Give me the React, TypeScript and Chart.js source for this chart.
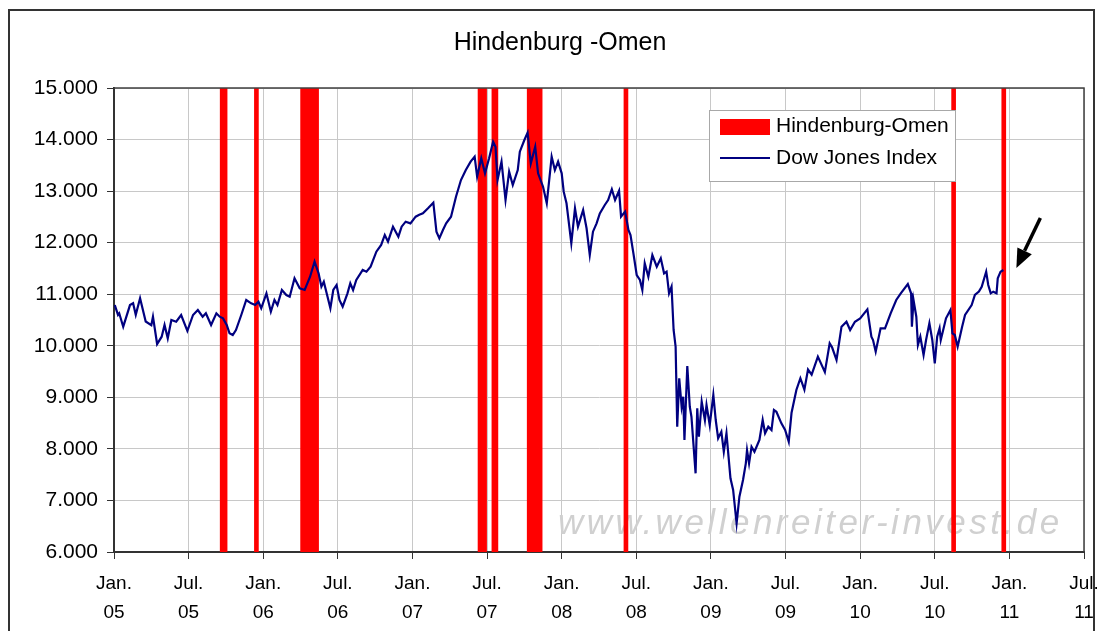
import React, { useEffect, useRef } from "react";
import { Chart, registerables } from "chart.js";

Chart.register(...registerables);

const FONT = '"Liberation Sans", Arial, sans-serif';

// X axis: months since Jan 2005
const xTickMonths = [0, 6, 12, 18, 24, 30, 36, 42, 48, 54, 60, 66, 72, 78];
const xTickLabels = [
  ["Jan.", "05"], ["Jul.", "05"], ["Jan.", "06"], ["Jul.", "06"],
  ["Jan.", "07"], ["Jul.", "07"], ["Jan.", "08"], ["Jul.", "08"],
  ["Jan.", "09"], ["Jul.", "09"], ["Jan.", "10"], ["Jul.", "10"],
  ["Jan.", "11"], ["Jul.", "11"],
];
const yMin = 6000;
const yMax = 15000;
const yStep = 1000;

// Hindenburg-Omen signal dates
const omenDates = [
  "2005-09-22", "2005-09-29", "2005-12-15",
  "2006-04-06", "2006-04-12", "2006-04-18", "2006-04-24", "2006-04-28", "2006-05-03", "2006-05-10",
  "2007-06-14", "2007-06-19", "2007-06-25", "2007-07-18", "2007-07-23",
  "2007-10-13", "2007-10-17", "2007-10-22", "2007-10-26", "2007-10-31", "2007-11-04", "2007-11-09",
  "2008-06-06", "2010-08-17", "2010-12-18",
];

// Dow Jones Index
const dowDates = [
  "2005-01-03", "2005-01-11", "2005-01-14", "2005-01-24", "2005-02-09", "2005-02-16", "2005-02-22", "2005-03-04",
  "2005-03-18", "2005-04-01", "2005-04-05", "2005-04-15", "2005-04-26", "2005-05-03", "2005-05-11", "2005-05-20",
  "2005-06-01", "2005-06-13", "2005-06-28", "2005-07-12", "2005-07-24", "2005-08-05", "2005-08-13", "2005-08-26",
  "2005-09-08", "2005-09-16", "2005-09-24", "2005-10-03", "2005-10-10", "2005-10-18", "2005-10-26", "2005-11-08",
  "2005-11-20", "2005-12-02", "2005-12-12", "2005-12-20", "2005-12-27",
  "2006-01-09", "2006-01-20", "2006-01-29", "2006-02-05", "2006-02-15", "2006-02-25", "2006-03-05", "2006-03-17",
  "2006-03-30", "2006-04-11", "2006-04-24", "2006-05-05", "2006-05-15", "2006-05-22", "2006-05-28", "2006-06-13",
  "2006-06-20", "2006-06-28", "2006-07-05", "2006-07-13", "2006-07-25", "2006-08-01", "2006-08-08", "2006-08-16",
  "2006-09-01", "2006-09-10", "2006-09-20", "2006-10-04", "2006-10-16", "2006-10-25", "2006-11-02", "2006-11-14",
  "2006-11-27", "2006-12-05", "2006-12-15", "2006-12-27",
  "2007-01-09", "2007-01-18", "2007-01-27", "2007-02-08", "2007-02-20", "2007-02-27", "2007-03-06", "2007-03-15",
  "2007-03-23", "2007-04-04", "2007-04-16", "2007-04-28", "2007-05-10", "2007-05-22", "2007-06-01", "2007-06-07",
  "2007-06-17", "2007-06-26", "2007-07-06", "2007-07-16", "2007-07-22", "2007-07-27", "2007-08-06", "2007-08-16",
  "2007-08-25", "2007-09-03", "2007-09-15", "2007-09-20", "2007-10-01", "2007-10-09", "2007-10-17", "2007-10-28",
  "2007-11-04", "2007-11-16", "2007-11-25", "2007-12-07", "2007-12-15", "2007-12-23",
  "2008-01-01", "2008-01-06", "2008-01-13", "2008-01-25", "2008-02-03", "2008-02-10", "2008-02-22", "2008-03-01",
  "2008-03-09", "2008-03-17", "2008-03-26", "2008-04-03", "2008-04-15", "2008-04-23", "2008-05-02", "2008-05-10",
  "2008-05-20", "2008-05-25", "2008-06-04", "2008-06-12", "2008-06-17", "2008-06-24", "2008-07-02", "2008-07-10",
  "2008-07-16", "2008-07-22", "2008-07-31", "2008-08-10", "2008-08-21", "2008-08-31", "2008-09-08", "2008-09-14",
  "2008-09-20", "2008-09-26", "2008-10-01", "2008-10-06", "2008-10-10", "2008-10-15", "2008-10-21", "2008-10-25",
  "2008-10-28", "2008-11-04", "2008-11-10", "2008-11-14", "2008-11-24", "2008-11-28", "2008-12-02", "2008-12-09",
  "2008-12-17", "2008-12-21", "2008-12-29",
  "2009-01-07", "2009-01-13", "2009-01-19", "2009-01-27", "2009-02-02", "2009-02-08", "2009-02-17", "2009-02-23",
  "2009-03-03", "2009-03-10", "2009-03-19", "2009-03-26", "2009-03-29", "2009-04-03", "2009-04-09", "2009-04-16",
  "2009-04-28", "2009-05-06", "2009-05-12", "2009-05-20", "2009-05-28", "2009-06-03", "2009-06-09", "2009-06-21",
  "2009-06-30", "2009-07-09", "2009-07-16", "2009-07-28", "2009-08-07", "2009-08-17", "2009-08-26", "2009-09-04",
  "2009-09-19", "2009-10-06", "2009-10-18", "2009-10-24", "2009-11-04", "2009-11-16", "2009-11-28", "2009-12-07",
  "2009-12-19",
  "2010-01-01", "2010-01-19", "2010-01-29", "2010-02-02", "2010-02-08", "2010-02-19", "2010-03-01", "2010-03-15",
  "2010-03-29", "2010-04-09", "2010-04-26", "2010-05-04", "2010-05-06", "2010-05-10", "2010-05-17", "2010-05-21",
  "2010-05-27", "2010-06-04", "2010-06-10", "2010-06-18", "2010-06-25", "2010-07-01", "2010-07-07", "2010-07-13",
  "2010-07-16", "2010-07-29", "2010-08-09", "2010-08-14", "2010-08-20", "2010-08-27", "2010-09-07", "2010-09-14",
  "2010-09-30", "2010-10-08", "2010-10-18", "2010-10-25", "2010-11-05", "2010-11-10", "2010-11-16", "2010-11-22",
  "2010-11-30", "2010-12-03", "2010-12-10", "2010-12-17",
];
const dowValues = [
  10790, 10600, 10630, 10370, 10790, 10824, 10600, 10920,
  10470, 10400, 10564, 10034, 10176, 10403, 10145, 10500,
  10467, 10597, 10290, 10597, 10694, 10564, 10630, 10403,
  10630, 10564, 10532, 10403, 10242, 10209, 10306, 10597,
  10888, 10824, 10790, 10855, 10727,
  11018, 10662, 10888, 10790, 11082, 10985, 10952, 11309,
  11115, 11082, 11340, 11631, 11405, 11146, 11243, 10727,
  11082, 11179, 10888, 10760, 11018, 11212, 11082, 11276,
  11470, 11437, 11534, 11825, 11955, 12149, 12019, 12310,
  12116, 12310, 12407, 12375,
  12504, 12540, 12569, 12666, 12776, 12213, 12084, 12245,
  12375, 12504, 12892, 13215, 13409, 13571, 13668, 13280,
  13636, 13345, 13636, 13959, 13862, 13215, 13571, 12827,
  13376, 13118, 13409, 13765, 13991, 14133, 13539, 13862,
  13345, 13085, 12764, 13668, 13409, 13571,
  13345, 12989, 12764, 11988, 12666, 12310, 12634, 12279,
  11761, 12213, 12375, 12569, 12731, 12827, 13035, 12827,
  13008, 12504, 12601, 12245, 12149, 11793, 11373, 11276,
  11082, 11600, 11340, 11761, 11534, 11696, 11405, 11437,
  11018, 11146, 10306, 9982, 8430, 9369, 8818, 9012,
  8172, 9608, 8818, 8624, 7526, 8787, 8236, 8915,
  8560, 8851, 8463,
  9045, 8560, 8205, 8333, 7945, 8302, 7429, 7203,
  6556, 7072, 7397, 7720, 7978, 7720, 8042, 7945,
  8172, 8560, 8302, 8430, 8366, 8754, 8721, 8496,
  8366, 8139, 8702, 9142, 9370, 9150, 9540, 9440,
  9790, 9490, 10048, 9970, 9724, 10370, 10467, 10306,
  10467,
  10532, 10707, 10176, 10112, 9885, 10339, 10339, 10630,
  10888, 11018, 11198, 11018, 10370, 10888, 10564, 10015,
  10176, 9821, 10112, 10436, 10112, 9660, 10176, 10339,
  10112, 10532, 10694, 10242, 10209, 9982, 10370, 10597,
  10790, 10985, 11050, 11146, 11437, 11179, 11018, 11050,
  11018, 11309, 11437, 11470,
];

function toMonth(s: string): number {
  const [y, m, d] = s.split("-").map(Number);
  const dim = new Date(y, m, 0).getDate();
  return (y - 2005) * 12 + (m - 1) + (d - 1) / dim;
}

const decorPlugin = {
  id: "decor",
  beforeDraw(chart: any) {
    const ctx = chart.ctx;
    ctx.save();
    ctx.fillStyle = "#ffffff";
    ctx.fillRect(0, 0, chart.width, chart.height);
    ctx.restore();
  },
  beforeDatasetsDraw(chart: any) {
    const ctx = chart.ctx;
    const a = chart.chartArea;
    ctx.save();
    ctx.font = `italic 35px ${FONT}`;
    (ctx as any).letterSpacing = "3.5px";
    ctx.fillStyle = "#d0d0d0";
    ctx.filter = "blur(0.7px)";
    ctx.textBaseline = "alphabetic";
    ctx.textAlign = "left";
    ctx.fillText("www.wellenreiter-invest.de", a.left + 444, a.bottom - 18);
    ctx.restore();
  },
  afterDatasetsDraw(chart: any) {
    const ctx = chart.ctx;
    const a = chart.chartArea;
    // plot border top/right
    ctx.save();
    ctx.strokeStyle = "#404040";
    ctx.lineWidth = 1.5;
    ctx.beginPath();
    ctx.moveTo(a.left, a.top);
    ctx.lineTo(a.right, a.top);
    ctx.lineTo(a.right, a.bottom);
    ctx.stroke();
    ctx.restore();

    // arrow pointing at last Dow value
    const xs = chart.scales.x;
    const ys = chart.scales.y;
    const lastX = xs.getPixelForValue(toMonth(dowDates[dowDates.length - 1]));
    const lastY = ys.getPixelForValue(dowValues[dowValues.length - 1]);
    const tipX = lastX + 13;
    const tipY = lastY - 2;
    const tailX = lastX + 37;
    const tailY = lastY - 52;
    const ang = Math.atan2(tipY - tailY, tipX - tailX);
    const headLen = 19;
    const headW = 8;
    const bx = tipX - headLen * Math.cos(ang);
    const by = tipY - headLen * Math.sin(ang);
    ctx.save();
    ctx.strokeStyle = "#000";
    ctx.fillStyle = "#000";
    ctx.lineWidth = 3.5;
    ctx.beginPath();
    ctx.moveTo(tailX, tailY);
    ctx.lineTo(bx, by);
    ctx.stroke();
    ctx.beginPath();
    ctx.moveTo(tipX, tipY);
    ctx.lineTo(bx + headW * Math.sin(ang), by - headW * Math.cos(ang));
    ctx.lineTo(bx - headW * Math.sin(ang), by + headW * Math.cos(ang));
    ctx.closePath();
    ctx.fill();
    ctx.restore();
  },
  afterDraw(chart: any) {
    const ctx = chart.ctx;
    const a = chart.chartArea;
    ctx.save();
    // outer frame
    ctx.strokeStyle = "#333333";
    ctx.lineWidth = 2;
    ctx.beginPath();
    ctx.moveTo(9, chart.height + 2);
    ctx.lineTo(9, 10);
    ctx.lineTo(chart.width - 3, 10);
    ctx.lineTo(chart.width - 3, chart.height + 2);
    ctx.stroke();

    // title
    ctx.fillStyle = "#000";
    ctx.font = `25px ${FONT}`;
    ctx.textAlign = "center";
    ctx.textBaseline = "middle";
    ctx.fillText("Hindenburg -Omen", 560, 43);

    // legend
    const lx = a.left + 595;
    const ly = a.top + 22;
    const lw = 246;
    const lh = 71;
    ctx.fillStyle = "#ffffff";
    ctx.fillRect(lx, ly, lw, lh);
    ctx.strokeStyle = "#a8a8a8";
    ctx.lineWidth = 1;
    ctx.strokeRect(lx + 0.5, ly + 0.5, lw, lh);
    ctx.fillStyle = "#ff0000";
    ctx.fillRect(lx + 11, ly + 9, 50, 16);
    ctx.strokeStyle = "#000080";
    ctx.lineWidth = 2;
    ctx.beginPath();
    ctx.moveTo(lx + 11, ly + 48);
    ctx.lineTo(lx + 61, ly + 48);
    ctx.stroke();
    ctx.fillStyle = "#000";
    ctx.font = `21px ${FONT}`;
    ctx.textAlign = "left";
    ctx.textBaseline = "middle";
    ctx.fillText("Hindenburg-Omen", lx + 67, ly + 16);
    ctx.fillText("Dow Jones Index", lx + 67, ly + 48);
    ctx.restore();
  },
};

export default function App() {
  const ref = useRef<HTMLCanvasElement | null>(null);
  useEffect(() => {
    if (!ref.current) return;
    const dowPoints = dowDates.map((d, i) => ({ x: toMonth(d), y: dowValues[i] }));
    const omenPoints = omenDates.map((d) => ({ x: toMonth(d), y: [yMin, yMax] }));
    const chart = new Chart(ref.current, {
      type: "line",
      data: {
        datasets: [
          {
            type: "line",
            label: "Dow Jones Index",
            data: dowPoints as any,
            borderColor: "#000080",
            borderWidth: 2.2,
            pointRadius: 0,
            tension: 0,
            order: 0,
          },
          {
            type: "bar",
            label: "Hindenburg-Omen",
            data: omenPoints as any,
            backgroundColor: "#ff0000",
            borderWidth: 0,
            barThickness: 4,
            order: 1,
          } as any,
        ],
      },
      options: {
        animation: false,
        responsive: false,
        maintainAspectRatio: false,
        layout: { padding: { top: 88, right: 13, left: 0, bottom: 0 } },
        plugins: {
          legend: { display: false },
          title: { display: false },
          tooltip: { enabled: false },
        },
        scales: {
          x: {
            type: "linear",
            min: xTickMonths[0],
            max: xTickMonths[xTickMonths.length - 1],
            offset: false,
            afterBuildTicks: (s: any) => {
              s.ticks = xTickMonths.map((v) => ({ value: v }));
            },
            afterFit: (s: any) => {
              s.paddingLeft = 0;
              s.paddingRight = 0;
              s.height = 79;
            },
            ticks: {
              autoSkip: false,
              maxRotation: 0,
              minRotation: 0,
              padding: 10,
              color: "#000",
              font: { family: FONT, size: 19, lineHeight: 1.55 },
              callback: (v: any) => {
                const i = xTickMonths.indexOf(Number(v));
                return i >= 0 ? xTickLabels[i] : "";
              },
            },
            grid: { color: "#c8c8c8", tickColor: "#333", tickLength: 7, lineWidth: 1, offset: false },
            border: { color: "#333", width: 2 },
          },
          y: {
            type: "linear",
            min: yMin,
            max: yMax,
            afterFit: (s: any) => {
              s.width = 114;
            },
            ticks: {
              stepSize: yStep,
              padding: 9,
              color: "#000",
              font: { family: FONT, size: 21 },
              callback: (v: any) => (Number(v) / 1000).toFixed(3),
            },
            grid: { color: "#c8c8c8", tickColor: "#333", tickLength: 7, lineWidth: 1 },
            border: { color: "#333", width: 2 },
          },
        },
      },
      plugins: [decorPlugin],
    });
    return () => chart.destroy();
  }, []);
  return (
    <div style={{ position: "absolute", left: 0, top: 0, width: 1097, height: 631, overflow: "hidden" }}>
      <canvas ref={ref} width={1097} height={631} style={{ display: "block", width: 1097, height: 631 }} />
    </div>
  );
}
